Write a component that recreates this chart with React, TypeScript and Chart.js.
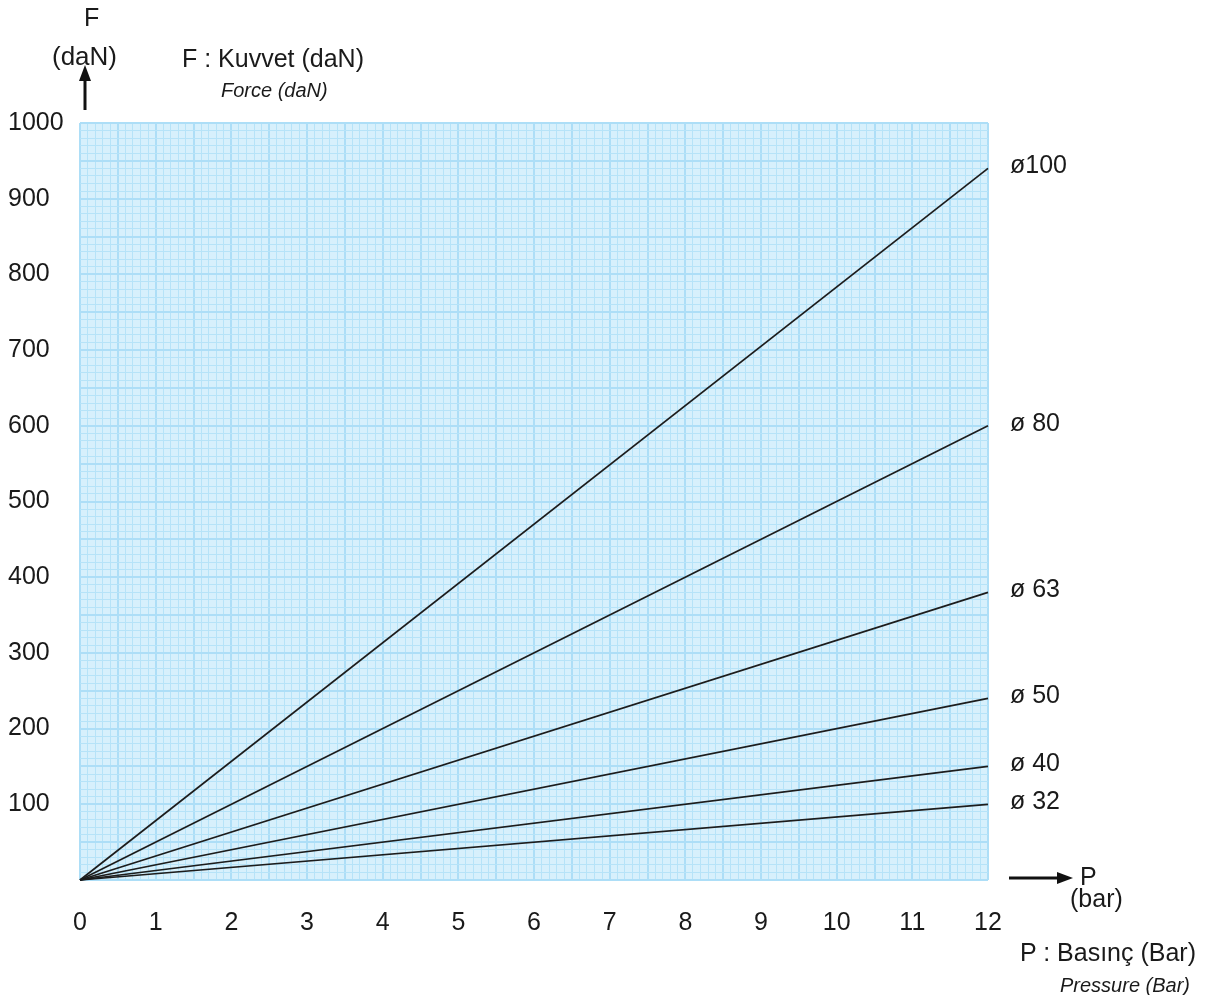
import React, { useEffect, useRef } from "react";
import { Chart, registerables } from "chart.js";

Chart.register(...registerables);

// ---- data ----
const pressureBar = [0, 12];
const boreLabels = ["ø100", "ø 80", "ø 63", "ø 50", "ø 40", "ø 32"];
const force100 = [0, 940];
const force80 = [0, 600];
const force63 = [0, 380];
const force50 = [0, 240];
const force40 = [0, 150];
const force32 = [0, 100];
const xTickLabels = ["0", "1", "2", "3", "4", "5", "6", "7", "8", "9", "10", "11", "12"];
const yTickLabels = ["100", "200", "300", "400", "500", "600", "700", "800", "900", "1000"];

const FONT = '"Liberation Sans", Arial, Helvetica, sans-serif';
const BG = "#d7f0fc";
const MINOR = "#b6e3f8";
const MAJOR = "#addef7";
const LINE = "#1c1c1c";

const near = (v: number, step: number) => Math.abs(v / step - Math.round(v / step)) < 1e-6;

const bgPlugin = {
  id: "plotBg",
  beforeDraw(chart: any) {
    const { ctx, chartArea } = chart;
    ctx.save();
    ctx.fillStyle = BG;
    ctx.fillRect(chartArea.left, chartArea.top, chartArea.right - chartArea.left, chartArea.bottom - chartArea.top);
    ctx.restore();
  },
};

const endLabelPlugin = {
  id: "endLabels",
  afterDatasetsDraw(chart: any) {
    const { ctx } = chart;
    ctx.save();
    ctx.font = `25px ${FONT}`;
    ctx.fillStyle = "#1a1a1a";
    ctx.textAlign = "left";
    ctx.textBaseline = "middle";
    chart.data.datasets.forEach((ds: any, i: number) => {
      const meta = chart.getDatasetMeta(i);
      const pt = meta.data[meta.data.length - 1];
      if (!pt) return;
      ctx.fillText(ds.label, pt.x + 22, pt.y - 2);
    });
    ctx.restore();
  },
};

export default function App() {
  const ref = useRef<HTMLCanvasElement>(null);

  useEffect(() => {
    if (!ref.current) return;
    const series = [force100, force80, force63, force50, force40, force32];
    const chart = new Chart(ref.current, {
      type: "line",
      data: {
        datasets: series.map((s, i) => ({
          label: boreLabels[i],
          data: s.map((y, j) => ({ x: pressureBar[j], y })),
          borderColor: LINE,
          borderWidth: 1.7,
          pointRadius: 0,
          fill: false,
          tension: 0,
          clip: 4,
        })),
      },
      options: {
        responsive: false,
        animation: false,
        events: [],
        layout: { padding: { top: 115, right: 220, left: 0, bottom: 0 } },
        plugins: { legend: { display: false }, tooltip: { enabled: false } },
        scales: {
          x: {
            type: "linear",
            min: 0,
            max: 12,
            afterFit: (s: any) => {
              s.height = 115;
            },
            border: { display: false },
            grid: {
              drawTicks: false,
              color: (c: any) => (c.tick && near(c.tick.value, 0.5) ? MAJOR : MINOR),
              lineWidth: (c: any) => (c.tick && near(c.tick.value, 0.5) ? 2 : 1),
            },
            ticks: {
              stepSize: 0.1,
              autoSkip: false,
              maxRotation: 0,
              minRotation: 0,
              padding: 28,
              color: "#1a1a1a",
              font: { family: FONT, size: 25 },
              callback: (v: any) => (near(Number(v), 1) ? xTickLabels[Math.round(Number(v))] ?? "" : ""),
            },
          },
          y: {
            type: "linear",
            min: 0,
            max: 1000,
            afterFit: (s: any) => {
              s.width = 72;
            },
            border: { display: false },
            grid: {
              drawTicks: false,
              color: (c: any) => (c.tick && near(c.tick.value, 50) ? MAJOR : MINOR),
              lineWidth: (c: any) => (c.tick && near(c.tick.value, 50) ? 2 : 1),
            },
            ticks: {
              stepSize: 10,
              autoSkip: false,
              crossAlign: "far",
              color: "#1a1a1a",
              font: { family: FONT, size: 25 },
              callback: (v: any) => {
                const n = Number(v);
                if (n === 0 || !near(n, 100)) return "";
                return yTickLabels[Math.round(n / 100) - 1] ?? "";
              },
            },
          },
        },
      },
      plugins: [bgPlugin, endLabelPlugin],
    } as any);
    return () => chart.destroy();
  }, []);

  const txt = (style: React.CSSProperties): React.CSSProperties => ({
    position: "absolute",
    fontFamily: FONT,
    color: "#1a1a1a",
    lineHeight: 1,
    whiteSpace: "nowrap",
    transform: "translateY(-50%)",
    ...style,
  });

  return (
    <div style={{ position: "relative", width: 1200, height: 987 }}>
      <canvas ref={ref} width={1200} height={987} style={{ display: "block" }} />
      <div style={txt({ left: 76, top: 9, fontSize: 25 })}>F</div>
      <div style={txt({ left: 44, top: 48, fontSize: 26 })}>(daN)</div>
      <div style={txt({ left: 174, top: 50, fontSize: 25 })}>F : Kuvvet (daN)</div>
      <div style={txt({ left: 213, top: 82, fontSize: 20, fontStyle: "italic" })}>Force (daN)</div>
      <div style={txt({ left: 1072, top: 868, fontSize: 25 })}>P</div>
      <div style={txt({ left: 1062, top: 890, fontSize: 25 })}>(bar)</div>
      <div style={txt({ left: 1012, top: 944, fontSize: 25 })}>P : Basınç (Bar)</div>
      <div style={txt({ left: 1052, top: 977, fontSize: 20, fontStyle: "italic" })}>Pressure (Bar)</div>
      <svg width={1200} height={987} style={{ position: "absolute", left: 0, top: 0, pointerEvents: "none" }}>
        <line x1={77} y1={102} x2={77} y2={70} stroke="#111" strokeWidth={3} />
        <polygon points="77,57 71,73 83,73" fill="#111" />
        <line x1={1001} y1={870} x2={1050} y2={870} stroke="#111" strokeWidth={3} />
        <polygon points="1065,870 1049,864 1049,876" fill="#111" />
      </svg>
    </div>
  );
}
